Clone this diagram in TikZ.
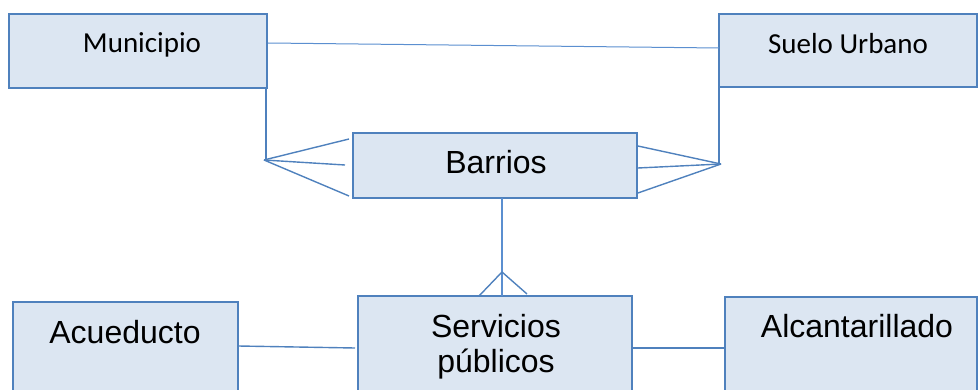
\documentclass[tikz,border=0pt]{standalone}
\usepackage{fontspec}
\setmainfont{Liberation Sans}
\newfontfamily\calib{Carlito}
\definecolor{boxfill}{HTML}{DCE6F2}
\definecolor{boxline}{HTML}{4F81BD}
\definecolor{thinline}{HTML}{5B8FD0}
\begin{document}
\begin{tikzpicture}[x=1pt,y=-1pt,
  box/.style={draw=boxline, fill=boxfill, line width=1.8pt, inner sep=0pt, rectangle},
  conn/.style={draw=boxline, line width=1.4pt},
  thin/.style={draw=thinline, line width=1pt},
  ctxt/.style={font=\calib\fontsize{29}{35}\selectfont, anchor=base, inner sep=0pt},
  atxt/.style={font=\fontsize{32}{35}\selectfont, anchor=base, inner sep=0pt, align=center}]
\useasboundingbox (0,0) rectangle (979,390);
\clip (0,0) rectangle (979,390);

% boxes
\node[box, minimum width=258pt, minimum height=74pt] (mun) at (138,51) {};
\node[box, minimum width=258pt, minimum height=73pt] (sue) at (848,50.5) {};
\node[box, minimum width=284pt, minimum height=65pt] (bar) at (495,165.5) {};
\node[box, minimum width=274pt, minimum height=104pt] (ser) at (495,348) {};
\node[box, minimum width=225pt, minimum height=98pt] (acu) at (125.5,351) {};
\node[box, minimum width=252pt, minimum height=103pt] (alc) at (851,348.5) {};

% texts
\node[ctxt] (tmun) at (142,53) {Municipio};
\node[ctxt] (tsue) at (848,54) {Suelo Urbano};
\node[atxt] (tbar) at (496,174) {Barrios};
\node[atxt] (tser1) at (496,337) {Servicios};
\node[atxt] (tser2) at (496,372) {públicos};
\node[atxt] (tacu) at (125,343) {Acueducto};
\node[atxt] (talc) at (857,337) {Alcantarillado};

% connectors
\coordinate (m1) at (268,43);
\coordinate (s1) at (719,48);
\draw[thin] (m1) -- (s1);

% Municipio -> Barrios crow foot
\coordinate (mv) at (266,88);
\coordinate (mf) at (264,160);
\coordinate (b1) at (349,139);
\coordinate (b2) at (345,165);
\coordinate (b3) at (349,196);
\draw[conn] (mv) -- (266,160) -- (mf);
\draw[conn] (mf) -- (b1);
\draw[conn] (mf) -- (b2);
\draw[conn] (mf) -- (b3);

% Suelo Urbano -> Barrios crow foot
\coordinate (sv) at (719,87);
\coordinate (sf) at (721,164);
\coordinate (c1) at (bar.east |- 0,146);
\coordinate (c2) at (bar.east |- 0,168);
\coordinate (c3) at (bar.east |- 0,193);
\draw[conn] (sv) -- (719,164) -- (sf);
\draw[conn] (sf) -- (c1);
\draw[conn] (sf) -- (c2);
\draw[conn] (sf) -- (c3);

% Barrios -> Servicios crow foot
\coordinate (bb) at (502,198);
\coordinate (sa) at (502,272);
\coordinate (st) at (502,296);
\coordinate (sl) at (479,296);
\coordinate (sr) at (527,294);
\draw[thin, line width=1.1pt] (bb) -- (st);
\draw[conn] (sa) -- (sl);
\draw[conn] (sa) -- (sr);

% lower connectors
\coordinate (a1) at (238,346);
\coordinate (a2) at (355,348);
\draw[conn] (a1) -- (a2);
\draw[conn] (ser.east |- 0,348) -- (alc.west |- 0,348);
\end{tikzpicture}
\end{document}
